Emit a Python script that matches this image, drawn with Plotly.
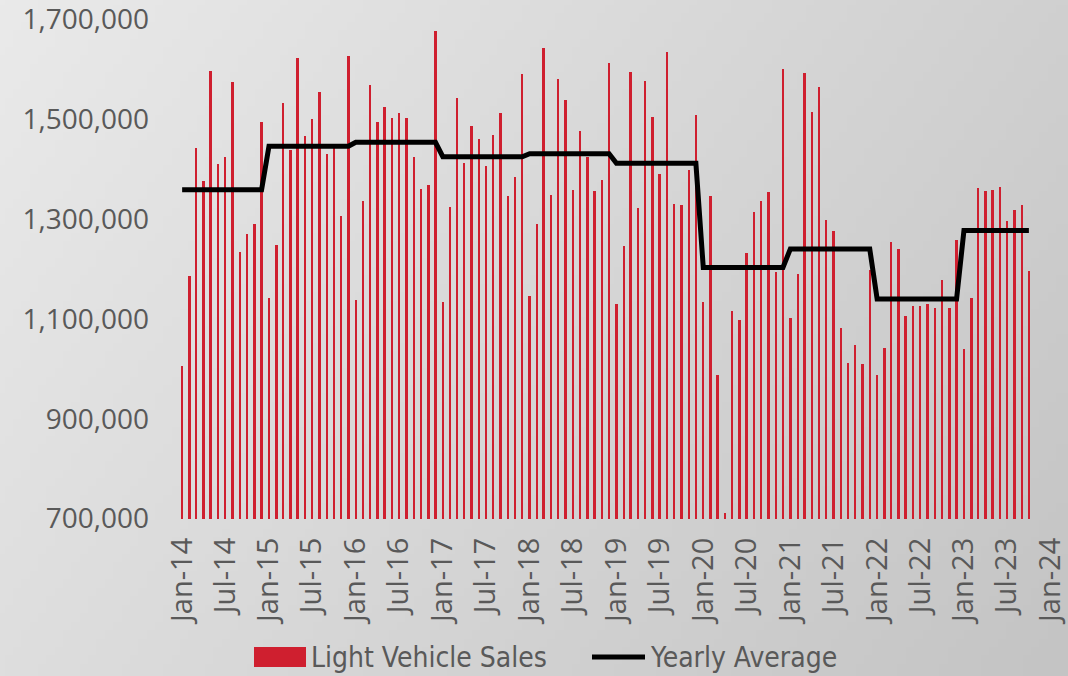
import base64, struct, zlib
import pandas as pd
import plotly.graph_objects as go

# ---------------- data ----------------
months = pd.date_range("2014-01-01", periods=118, freq="MS")

sales_2014 = [1005000, 1185000, 1442000, 1376000, 1597000, 1410000, 1424000, 1575000, 1235000, 1270000, 1291000, 1494000]
sales_2015 = [1141000, 1248000, 1533000, 1439000, 1622000, 1467000, 1500000, 1555000, 1430000, 1445000, 1307000, 1627000]
sales_2016 = [1138000, 1337000, 1569000, 1494000, 1524000, 1502000, 1512000, 1502000, 1424000, 1361000, 1368000, 1677000]
sales_2017 = [1134000, 1324000, 1542000, 1413000, 1486000, 1460000, 1406000, 1469000, 1512000, 1346000, 1385000, 1590000]
sales_2018 = [1146000, 1290000, 1642000, 1349000, 1581000, 1539000, 1358000, 1477000, 1424000, 1356000, 1378000, 1613000]
sales_2019 = [1130000, 1247000, 1594000, 1323000, 1577000, 1505000, 1391000, 1634000, 1331000, 1329000, 1399000, 1508000]
sales_2020 = [1133000, 1347000, 987000, 711000, 1116000, 1097000, 1233000, 1314000, 1336000, 1354000, 1195000, 1600000]
sales_2021 = [1102000, 1189000, 1592000, 1515000, 1565000, 1298000, 1277000, 1082000, 1012000, 1047000, 1010000, 1199000]
sales_2022 = [987000, 1042000, 1254000, 1240000, 1105000, 1125000, 1125000, 1130000, 1121000, 1178000, 1122000, 1259000]
sales_2023 = [1039000, 1141000, 1362000, 1357000, 1358000, 1365000, 1297000, 1318000, 1329000, 1196000]

years = [2014, 2015, 2016, 2017, 2018, 2019, 2020, 2021, 2022, 2023]
yearly_average = [1359000, 1446000, 1454000, 1425000, 1431000, 1412000, 1203000, 1240000, 1140000, 1277000]

y_ticks = [700000, 900000, 1100000, 1300000, 1500000, 1700000]

sales = (sales_2014 + sales_2015 + sales_2016 + sales_2017 + sales_2018 +
         sales_2019 + sales_2020 + sales_2021 + sales_2022 + sales_2023)
avg_by_year = dict(zip(years, yearly_average))
avg_line = [avg_by_year[m.year] for m in months]

# ---------------- background (gradient image) ----------------
W, H = 128, 80
raw = bytearray()
for j in range(H):
    raw.append(0)
    for i in range(W):
        v = int(234 - 26 * i / (W - 1) - 12 * j / (H - 1))
        raw += bytes((v, v, v))
def chunk(t, d):
    c = struct.pack(">I", len(d)) + t + d
    return c + struct.pack(">I", zlib.crc32(t + d) & 0xffffffff)
png = (b"\x89PNG\r\n\x1a\n" + chunk(b"IHDR", struct.pack(">IIBBBBB", W, H, 8, 2, 0, 0, 0)) +
       chunk(b"IDAT", zlib.compress(bytes(raw), 9)) + chunk(b"IEND", b""))
bg_uri = "data:image/png;base64," + base64.b64encode(png).decode()

# ---------------- figure ----------------
FW, FH = 1068, 676
ML, MR, MT, MB = 180, 17, 19, 157
PW, PH = FW - ML - MR, FH - MT - MB

TXT = "#595959"
RED = "#cf1f2f"

fig = go.Figure()
fig.add_trace(go.Bar(
    x=months, y=sales, name="Light Vehicle Sales",
    marker=dict(color=RED, line=dict(width=0)),
    width=10 * 86400000,
))
fig.add_trace(go.Scatter(
    x=months, y=avg_line, name="Yearly Average", mode="lines",
    line=dict(color="black", width=5),
))

fig.update_layout(
    width=FW, height=FH,
    margin=dict(l=ML, r=MR, t=MT, b=MB, autoexpand=False),
    paper_bgcolor="#d6d6d6", plot_bgcolor="rgba(0,0,0,0)",
    showlegend=False,
    font=dict(family="Open Sans", color=TXT, size=26),
    images=[dict(source=bg_uri, xref="paper", yref="paper",
                 x=-ML / PW, y=1 + MT / PH, sizex=FW / PW, sizey=FH / PH,
                 xanchor="left", yanchor="top", sizing="stretch", layer="below")],
    bargap=0,
)
fig.update_xaxes(
    type="date", range=["2013-12-23", "2024-01-02"],
    tick0="2014-01-01", dtick="M6", tickformat="%b-%y",
    tickangle=-90, ticklabelstandoff=12, automargin=False,
    ticklabeloverflow="allow",
    showgrid=False, zeroline=False, showline=False, ticks="",
    tickfont=dict(family="Open Sans", size=29, color=TXT),
)
fig.update_yaxes(
    range=[699000, 1701000], tickvals=y_ticks, tickformat=",d",
    showgrid=False, zeroline=False, showline=False, ticks="",
    ticklabelstandoff=30, automargin=False, ticklabeloverflow="allow",
    tickfont=dict(family="Open Sans", size=28, color=TXT),
)

# legend drawn as shapes + text
LY = 657
fig.add_shape(type="rect", xref="paper", yref="paper",
              x0=(254 - ML) / PW, x1=(306 - ML) / PW,
              y0=(FH - MB - (LY + 10)) / PH, y1=(FH - MB - (LY - 10)) / PH,
              fillcolor=RED, line=dict(width=0), layer="above")
fig.add_shape(type="line", xref="paper", yref="paper",
              x0=(592 - ML) / PW, x1=(645 - ML) / PW,
              y0=(FH - MB - LY) / PH, y1=(FH - MB - LY) / PH,
              line=dict(color="black", width=5), layer="above")
for label, xl in [("Light Vehicle Sales", 309), ("Yearly Average", 648)]:
    fig.add_annotation(text=label, xref="paper", yref="paper",
                       x=(xl - ML) / PW, y=(FH - MB - LY) / PH,
                       xanchor="left", yanchor="middle", showarrow=False,
                       font=dict(family="DejaVu Sans Condensed, Liberation Sans Narrow, Open Sans", size=28, color=TXT))

fig.write_html("out.html", config={"displayModeBar": False},
               post_script="document.body.style.margin='0';document.body.style.overflow='hidden';")
